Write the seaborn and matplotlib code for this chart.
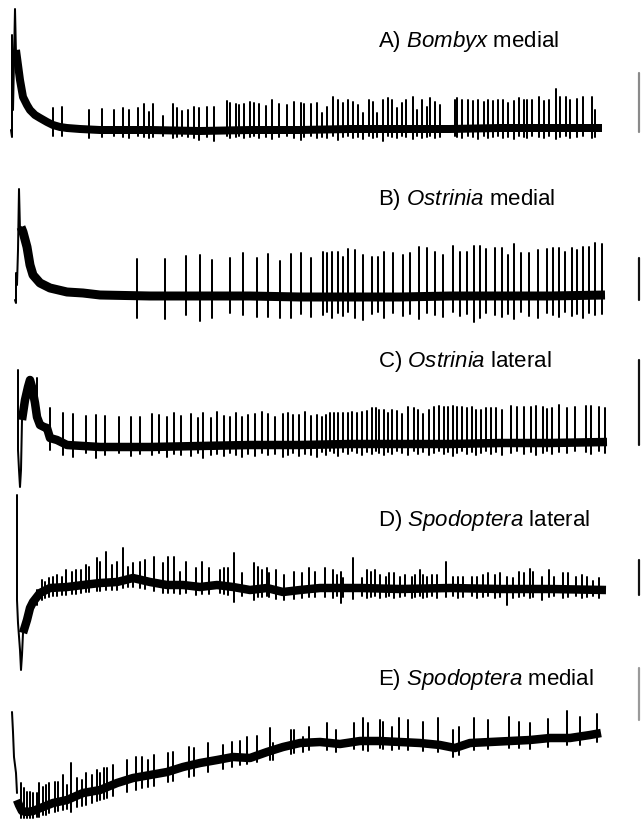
import matplotlib
matplotlib.use("Agg")
import matplotlib.pyplot as plt
import seaborn as sns
import pandas as pd
import numpy as np

# ---------------- data (time column, signal level; level grows downward) -------------
labels = ["A) $\\mathit{Bombyx}$ medial", "B) $\\mathit{Ostrinia}$ medial", "C) $\\mathit{Ostrinia}$ lateral",
          "D) $\\mathit{Spodoptera}$ lateral", "E) $\\mathit{Spodoptera}$ medial"]

# A) Bombyx medial
a_onset_t = [11, 12, 12, 13, 14, 15, 16, 17]
a_onset_v = [130, 137, 35, 110, 60, 9, 55, 62]
a_base_t = [16, 18, 20, 23, 27, 30, 35, 40, 47, 53, 60, 67, 80, 100, 150, 200, 250, 300, 350, 400, 450, 500, 550, 602]
a_base_v = [50, 65, 80, 97, 105, 110, 115, 118, 122, 125, 127, 128, 129, 130, 130, 131, 130, 130, 129, 129, 129, 128, 128, 128]
a_spk_t = [53, 62, 89, 102, 114, 123, 129, 138, 144, 149, 153, 163, 173, 177, 182, 188, 194, 199, 207, 214,
           227, 230, 236, 239, 244, 250, 254, 259, 266, 272, 279, 287, 294, 301, 304, 311, 317,
           322, 327, 333, 338, 343, 348, 353, 358, 363, 369, 373, 377, 383, 388, 392, 397, 402, 406, 413, 417,
           422, 427, 430, 435, 440, 455, 457, 462, 468, 473, 478, 484, 488, 493, 498, 503, 508, 514, 519, 524,
           527, 532, 539, 544, 549, 556, 560, 566, 570, 577, 583, 592, 595]
a_spk_top = [108, 107, 110, 109, 110, 108, 110, 108, 104, 112, 104, 116, 104, 108, 111, 110, 107, 108, 107, 107,
             101, 103, 104, 105, 104, 102, 103, 104, 106, 100, 104, 105, 102, 103, 104, 104, 103,
             113, 107, 97, 100, 103, 100, 102, 105, 113, 100, 102, 113, 100, 98, 100, 108, 103, 100, 97, 110,
             100, 107, 98, 102, 105, 100, 98, 100, 100, 101, 100, 102, 100, 101, 100, 100, 103, 101, 98, 100,
             100, 100, 97, 101, 100, 89, 97, 97, 100, 99, 97, 97, 110]
a_spk_low = [136, 136, 138, 137, 136, 137, 138, 136, 137, 138, 137, 136, 138, 137, 136, 137, 138, 140, 137, 141,
             136, 138, 137, 136, 138, 137, 136, 138, 137, 139, 137, 136, 138, 140, 137, 136, 138,
             137, 138, 136, 140, 137, 136, 138, 137, 139, 136, 138, 137, 141, 136, 137, 138, 136, 137, 139, 136,
             138, 137, 136, 138, 137, 136, 137, 138, 136, 137, 139, 136, 138, 137, 136, 138, 137, 139, 136, 137,
             138, 136, 137, 138, 136, 139, 137, 136, 138, 137, 136, 138, 137]

# B) Ostrinia medial
b_onset_t = [15, 16, 16, 17, 18, 19, 20, 21]
b_onset_v = [300, 303, 273, 285, 250, 189, 230, 227]
b_base_t = [21, 23, 27, 30, 33, 40, 50, 67, 83, 100, 150, 200, 250, 300, 350, 400, 450, 500, 550, 605]
b_base_v = [227, 232, 247, 265, 275, 283, 288, 292, 293, 295, 296, 296, 296, 297, 297, 297, 296, 296, 296, 295]
b_spk_t = [137, 165, 186, 200, 212, 230, 243, 257, 268, 280, 291, 301, 311,
           323, 327, 332, 338, 343, 348, 355, 363, 372, 378, 384, 393, 403, 410, 419, 427, 435, 443, 453, 460,
           467, 474, 480, 486, 495, 502, 508, 514, 521, 529, 538, 547, 553, 559, 565, 572, 577, 583, 589, 595, 602]
b_spk_top = [259, 259, 256, 255, 260, 258, 253, 258, 254, 261, 254, 253, 258,
             252, 253, 252, 252, 257, 249, 250, 255, 257, 257, 252, 253, 255, 253, 247, 248, 252, 255, 246, 252,
             252, 246, 246, 249, 248, 248, 255, 244, 253, 253, 250, 249, 248, 248, 252, 248, 250, 247, 247, 243, 244]
b_spk_low = [318, 319, 315, 321, 318, 313, 315, 317, 317, 318, 318, 314, 317,
             315, 312, 318, 313, 316, 312, 318, 320, 314, 312, 318, 313, 316, 314, 319, 313, 315, 317, 312, 316,
             314, 322, 318, 313, 315, 317, 314, 319, 312, 316, 318, 313, 315, 317, 312, 316, 314, 318, 313, 315, 314]

# C) Ostrinia lateral
c_onset_t = [18, 18, 19, 20, 21, 22, 23]
c_onset_v = [370, 450, 470, 487, 470, 420, 410]
c_base_t = [22, 25, 28, 30, 32, 35, 37, 40, 44, 47, 50, 57, 67, 100, 150, 200, 250, 300, 350, 400, 450, 500, 550, 607]
c_base_v = [420, 400, 387, 380, 387, 403, 417, 425, 427, 428, 438, 440, 445, 447, 447, 446, 445, 445, 444, 444, 444, 443, 443, 442]
c_spk_t = [37, 50, 63, 73, 86, 96, 105, 119, 131, 140, 152, 159, 167, 174, 181, 191, 198, 203, 211, 217, 224,
           230, 236, 242, 248, 255, 262, 268, 275, 283, 288, 293, 299, 305, 311, 317,
           322, 326, 330, 334, 338, 343, 348, 352, 357, 362, 367, 372, 376, 379, 384, 388, 392, 397, 402, 408,
           414, 418, 423, 429, 434, 439, 444, 448, 453, 457, 462, 467, 472, 476, 481, 486, 491, 496, 502, 511,
           517, 524, 531, 536, 543, 547, 552, 559, 567, 575, 586, 591, 599, 605]
c_spk_top = [378, 408, 413, 414, 416, 415, 416, 417, 417, 417, 414, 415, 417, 413, 416, 414, 418, 413, 418, 412, 416,
             417, 413, 417, 415, 414, 412, 414, 417, 414, 413, 415, 415, 412, 416, 415,
             417, 415, 413, 413, 413, 413, 413, 412, 413, 412, 411, 408, 408, 410, 410, 413, 410, 411, 414, 407,
             408, 410, 414, 410, 407, 406, 407, 407, 406, 407, 407, 408, 407, 410, 410, 408, 408, 408, 410, 406,
             407, 407, 407, 406, 407, 409, 408, 405, 408, 407, 406, 406, 407, 408]
c_spk_low = [425, 450, 455, 457, 453, 458, 455, 453, 456, 454, 455, 453, 457, 454, 455, 456, 453, 458, 455, 454, 456,
             453, 455, 457, 454, 456, 453, 455, 454, 457, 455, 453, 456, 454, 455, 457,
             452, 455, 451, 453, 456, 452, 454, 451, 453, 455, 452, 454, 451, 453, 455, 452, 454, 451, 453, 455,
             451, 454, 452, 455, 453, 451, 454, 452, 456, 453, 451, 454, 452, 455, 453, 451, 454, 452, 455, 453,
             451, 454, 452, 455, 453, 451, 454, 452, 453, 451, 452, 454, 451, 453]

# D) Spodoptera lateral
d_onset_t = [17, 17, 18, 20, 21, 22, 23]
d_onset_v = [495, 600, 623, 650, 670, 655, 633]
d_base_t = [23, 27, 30, 33, 40, 50, 67, 83, 100, 117, 133, 150, 167, 183, 200, 217, 233, 250, 267, 283, 300,
            320, 360, 400, 450, 500, 550, 606]
d_base_v = [633, 620, 608, 602, 593, 588, 587, 585, 583, 582, 578, 582, 585, 585, 587, 585, 587, 590, 588, 592, 590,
            588, 588, 589, 588, 589, 589, 590]
d_spk_t = [32, 37, 42, 45, 49, 53, 57, 62, 66, 72, 76, 81, 86, 89, 97, 100, 106, 112, 117, 123,
           128, 133, 140, 145, 154, 163, 168, 174, 180, 186, 196, 202, 209, 220, 224, 228, 234, 242, 254, 258,
           262, 267, 269, 276, 284, 294, 302, 309, 315,
           325, 333, 337, 341, 343, 353, 362, 367, 371, 375, 380, 386, 389, 394, 400, 405, 412, 415, 420, 423,
           427, 432, 437, 446, 453, 458, 463, 472, 477, 483, 488, 495, 500, 507, 513, 519, 524, 530, 533, 542,
           549, 554, 563, 568, 576, 582, 587, 593, 599]
d_spk_top = [600, 590, 580, 582, 578, 577, 575, 577, 570, 572, 570, 570, 565, 567, 558, 562, 552, 565, 562, 548,
             567, 563, 562, 560, 557, 563, 557, 557, 572, 562, 568, 562, 568, 570, 568, 568, 553, 573, 563, 567,
             570, 568, 573, 570, 575, 572, 573, 568, 572,
             568, 570, 575, 572, 578, 558, 578, 570, 572, 570, 575, 577, 573, 573, 577, 575, 577, 575, 570, 575,
             577, 575, 575, 562, 577, 577, 577, 577, 577, 575, 573, 575, 573, 577, 578, 572, 573, 569, 572, 577,
             570, 577, 573, 573, 577, 575, 577, 581, 578]
d_spk_low = [612, 605, 600, 598, 597, 596, 596, 595, 595, 594, 594, 593, 592, 592, 591, 591, 590, 590, 590, 588,
             587, 587, 588, 589, 591, 593, 593, 593, 594, 593, 595, 594, 594, 593, 594, 595, 602, 596, 600, 597,
             597, 596, 597, 599, 600, 599, 598, 597, 597,
             597, 598, 596, 603, 597, 599, 596, 598, 597, 596, 598, 597, 596, 598, 597, 596, 598, 597, 596, 598,
             597, 596, 598, 597, 596, 598, 597, 596, 598, 597, 596, 598, 597, 605, 598, 597, 596, 598, 597, 600,
             597, 596, 598, 597, 596, 598, 597, 596, 598]

# E) Spodoptera medial
e_onset_t = [12, 13, 14, 16, 17]
e_onset_v = [712, 732, 757, 773, 793]
e_base_t = [17, 19, 22, 27, 33, 43, 53, 67, 83, 100, 117, 133, 150, 167, 183, 200, 217, 233, 250, 267, 283,
            300, 320, 340, 360, 380, 400, 420, 440, 455, 470, 490, 510, 530, 550, 570, 590, 601]
e_base_v = [800, 805, 811, 812, 811, 807, 803, 800, 793, 790, 783, 778, 775, 772, 767, 763, 760, 757, 758, 752, 747,
            743, 742, 744, 741, 741, 742, 743, 745, 748, 743, 742, 741, 740, 738, 738, 735, 733]
e_spk_t = [21, 24, 27, 30, 33, 37, 39, 43, 46, 49, 55, 58, 63, 67, 71, 77, 82, 86, 92, 97,
           100, 104, 107, 113, 127, 136, 142, 148, 154, 168, 173, 189, 194, 208, 223, 232, 240, 247, 257, 270,
           273, 291, 294, 303, 309,
           327, 336, 354, 363, 368, 380, 383, 392, 399, 408, 423, 438, 453, 459, 474, 488, 509, 519, 530, 548,
           567, 580, 597]
e_spk_top = [783, 788, 792, 792, 793, 793, 783, 787, 785, 783, 782, 782, 775, 785, 763, 778, 780, 773, 775, 770,
             773, 768, 768, 765, 760, 757, 757, 760, 755, 753, 752, 747, 748, 743, 745, 742, 741, 737, 736, 728,
             743, 730, 730, 737, 727,
             723, 730, 723, 718, 723, 720, 722, 727, 718, 720, 722, 718, 730, 727, 718, 720, 717, 722, 723, 719,
             711, 717, 714]
e_spk_low = [818, 818, 818, 818, 818, 817, 817, 815, 815, 813, 812, 811, 810, 809, 812, 807, 806, 805, 803, 801,
             800, 799, 798, 796, 792, 790, 788, 787, 786, 782, 781, 777, 776, 772, 769, 767, 765, 764, 762, 760,
             760, 754, 753, 752, 750,
             750, 752, 749, 750, 751, 748, 749, 750, 749, 750, 751, 752, 757, 755, 750, 749, 748, 748, 749, 747,
             745, 745, 742]

# calibration bars at the right edge (top, bottom level)
bar_top = [73, 258, 360, 560, 668]
bar_bot = [132, 300, 445, 595, 720]
bar_col = ["#8a8a8a", "#111111", "#111111", "#111111", "#9a9a9a"]

label_level = [47, 205, 367, 526, 685]

# ---------------- drawing -------------
sns.set_theme(style="white")
plt.rcParams["font.family"] = ["Liberation Sans", "DejaVu Sans"]
plt.rcParams["mathtext.fontset"] = "custom"
plt.rcParams["mathtext.rm"] = "Liberation Sans"
plt.rcParams["mathtext.it"] = "Liberation Sans:italic"

fig = plt.figure(figsize=(6.41, 8.19), dpi=100)
fig.patch.set_facecolor("white")
ax = fig.add_axes([0, 0, 1, 1])

traces = [
    (a_onset_t, a_onset_v, a_base_t, a_base_v, a_spk_t, a_spk_top, a_spk_low, 8.0),
    (b_onset_t, b_onset_v, b_base_t, b_base_v, b_spk_t, b_spk_top, b_spk_low, 9.0),
    (c_onset_t, c_onset_v, c_base_t, c_base_v, c_spk_t, c_spk_top, c_spk_low, 8.5),
    (d_onset_t, d_onset_v, d_base_t, d_base_v, d_spk_t, d_spk_top, d_spk_low, 8.5),
    (e_onset_t, e_onset_v, e_base_t, e_base_v, e_spk_t, e_spk_top, e_spk_low, 8.5),
]

px = 0.72  # points per pixel at 100 dpi
for i, (ot, ov, bt, bv, st, stop, slow, band) in enumerate(traces):
    # noisy baseline band
    sns.lineplot(x=bt, y=bv, sort=False, estimator=None, color="black",
                 linewidth=band * px, ax=ax, solid_capstyle="butt")
    # onset transient
    sns.lineplot(x=ot, y=ov, sort=False, estimator=None, color="black",
                 linewidth=2.0 * px, ax=ax)
    # spikes
    rows = []
    for k, (t, top, low) in enumerate(zip(st, stop, slow)):
        rows.append((t, top, k))
        rows.append((t, low, k))
    sdf = pd.DataFrame(rows, columns=["t", "v", "spike"])
    sns.lineplot(data=sdf, x="t", y="v", units="spike", estimator=None, sort=False,
                 color="black", linewidth=2.0 * px, ax=ax)
    # calibration bar
    cdf = pd.DataFrame({"t": [639, 639], "v": [bar_top[i], bar_bot[i]]})
    sns.lineplot(data=cdf, x="t", y="v", sort=False, estimator=None, color=bar_col[i],
                 linewidth=2.2 * px, ax=ax)
    # label
    ax.text(378, label_level[i], labels[i], fontsize=16, color="black",
            ha="left", va="baseline")

ax.set_xlim(0, 641)
ax.set_ylim(819, 0)
ax.set_axis_off()
fig.savefig("out.png", dpi=100, facecolor="white")
